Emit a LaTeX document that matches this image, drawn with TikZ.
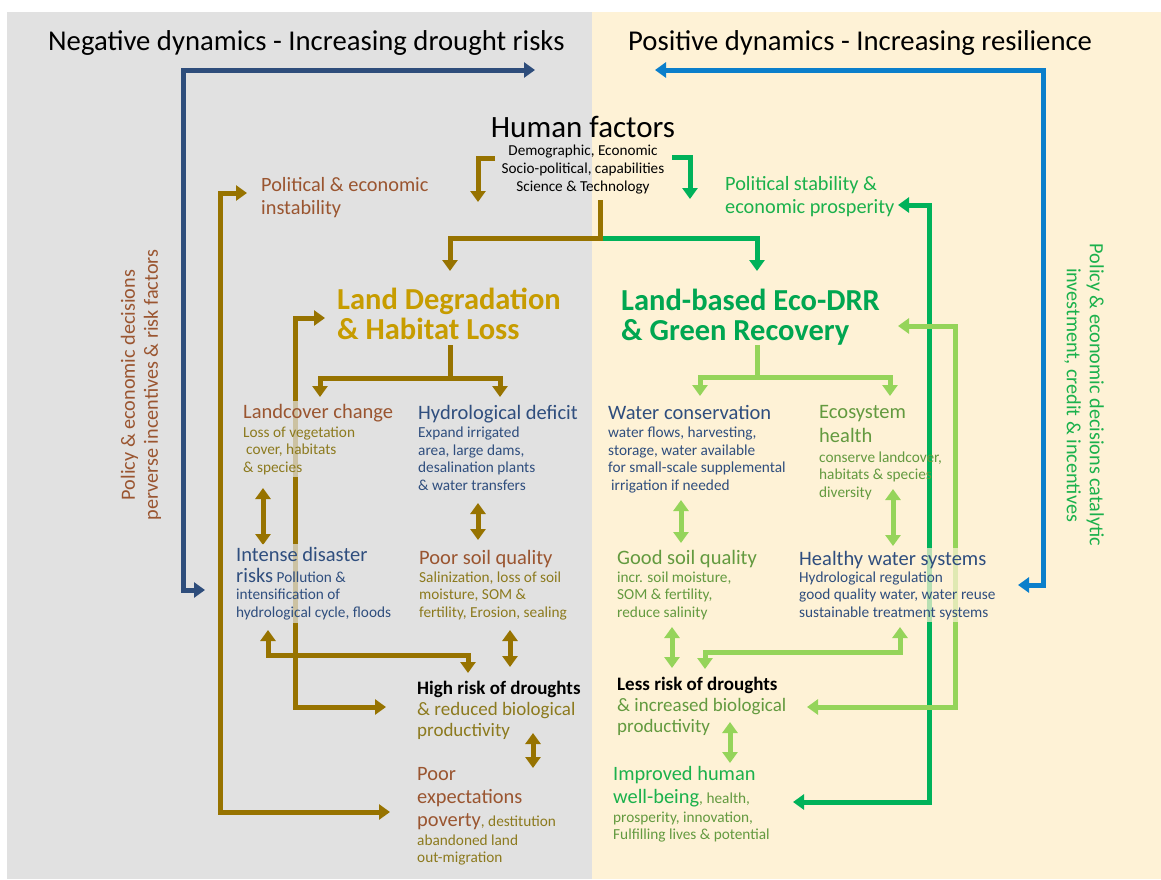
\documentclass[tikz,border=0pt]{standalone}
\usepackage{fontspec}
\setmainfont{Carlito}
\usetikzlibrary{arrows.meta}
\definecolor{bgneg}{HTML}{E1E1E1}
\definecolor{bgpos}{HTML}{FEF2D6}
\definecolor{navyline}{HTML}{2E4D7B}
\definecolor{skyline}{HTML}{0B7FCB}
\definecolor{goldline}{HTML}{977300}
\definecolor{greenline}{HTML}{00B25A}
\definecolor{limeline}{HTML}{95D45A}
\definecolor{brownT}{HTML}{9A5530}
\definecolor{oliveT}{HTML}{8C7A1E}
\definecolor{blueT}{HTML}{2F4E7E}
\definecolor{goldH}{HTML}{C79C00}
\definecolor{greenH}{HTML}{00A651}
\definecolor{greenT}{HTML}{639A3F}
\definecolor{brightG}{HTML}{1BB14C}
\newcommand\fsz[2]{\fontsize{#1}{#2}\selectfont}
\newcommand\labf{\fsz{20.5}{22}}
\newcommand\subf{\fsz{15.3}{17.5}}

\begin{document}
\begin{tikzpicture}[x=1pt,y=-1pt,
  link/.style={line width=5pt, >={Triangle[width=15pt,length=11pt]}},
  navyarr/.style={link, draw=navyline},
  skyarr/.style={link, draw=skyline},
  goldarr/.style={link, draw=goldline},
  greenarr/.style={link, draw=greenline},
  limearr/.style={link, draw=limeline},
  txt/.style={anchor=base west, inner sep=0pt, align=left},
  faded/.style={fill=#1, fill opacity=0.72, text opacity=1, inner ysep=3pt}
]
\useasboundingbox (0,0) rectangle (1161,879);

% two halves of the canvas
\fill[bgneg] (7,12) rectangle (592,879);
\fill[bgpos] (592,12) rectangle (1161,879);

% ---------- connector end points ----------
\coordinate (nbA) at (535,70);  \coordinate (nbB) at (183,70);
\coordinate (nbC) at (183,590); \coordinate (nbD) at (205,590);
\coordinate (skA) at (655,70);  \coordinate (skB) at (1043,70);
\coordinate (skC) at (1043,585);\coordinate (skD) at (1018,585);

\coordinate (hfG0) at (495,158); \coordinate (hfG1) at (478,158); \coordinate (hfG2) at (478,202);
\coordinate (hfV0) at (672,157); \coordinate (hfV1) at (690,157); \coordinate (hfV2) at (690,199);

\coordinate (trunk0) at (600,200); \coordinate (trunk1) at (600,238);
\coordinate (ldIn0) at (450,238);  \coordinate (ldIn1) at (450,271);
\coordinate (ecIn0) at (757,238);  \coordinate (ecIn1) at (757,271);

\coordinate (ldOut0) at (450,345); \coordinate (ldOut1) at (450,378);
\coordinate (ldL0) at (320,378);   \coordinate (ldL1) at (320,397);
\coordinate (ldR0) at (500,378);   \coordinate (ldR1) at (500,397);
\coordinate (ecOut0) at (757,345); \coordinate (ecOut1) at (757,377);
\coordinate (ecL0) at (700,377);   \coordinate (ecL1) at (700,396);
\coordinate (ecR0) at (890,377);   \coordinate (ecR1) at (890,396);

\coordinate (dA0) at (263,488); \coordinate (dA1) at (263,545);
\coordinate (dB0) at (478,503); \coordinate (dB1) at (478,540);
\coordinate (dC0) at (510,630); \coordinate (dC1) at (510,667);
\coordinate (dD0) at (533,733); \coordinate (dD1) at (533,768);
\coordinate (elA0) at (268,630); \coordinate (elA1) at (268,655);
\coordinate (elA2) at (468,655); \coordinate (elA3) at (468,673);
\coordinate (lgA0) at (325,318); \coordinate (lgA1) at (295,318);
\coordinate (lgA2) at (295,707); \coordinate (lgA3) at (386,707);
\coordinate (lgB0) at (247,193); \coordinate (lgB1) at (220,193);
\coordinate (lgB2) at (220,812); \coordinate (lgB3) at (390,812);

\coordinate (dE0) at (681,500); \coordinate (dE1) at (681,543);
\coordinate (dF0) at (893,489); \coordinate (dF1) at (893,546);
\coordinate (dG0) at (672,627); \coordinate (dG1) at (672,668);
\coordinate (dH0) at (730,722); \coordinate (dH1) at (730,763);
\coordinate (elB0) at (900,627); \coordinate (elB1) at (900,652);
\coordinate (elB2) at (705,652); \coordinate (elB3) at (705,669);
\coordinate (lmA0) at (898,326); \coordinate (lmA1) at (955,326);
\coordinate (lmA2) at (955,707); \coordinate (lmA3) at (807,707);
\coordinate (grA0) at (898,205); \coordinate (grA1) at (929,205);
\coordinate (grA2) at (929,802); \coordinate (grA3) at (793,802);

% ---------- connectors ----------
\draw[navyarr,<->] (nbA) -- (nbB) -- (nbC) -- (nbD);
\draw[skyarr,<->]  (skA) -- (skB) -- (skC) -- (skD);

\draw[goldarr,->]  (hfG0) -- (hfG1) -- (hfG2);
\draw[greenarr,->] (hfV0) -- (hfV1) -- (hfV2);
\draw[greenarr,->] (trunk1) -- (ecIn0) -- (ecIn1);
\draw[goldarr,->]  (trunk0) -- (trunk1) -- (ldIn0) -- (ldIn1);

\draw[goldarr] (ldOut0) -- (ldOut1);
\draw[goldarr,<->] (ldL1) -- (ldL0) -- (ldR0) -- (ldR1);
\draw[limearr] (ecOut0) -- (ecOut1);
\draw[limearr,<->] (ecL1) -- (ecL0) -- (ecR0) -- (ecR1);

\draw[goldarr,<->] (dA0) -- (dA1);
\draw[goldarr,<->] (dB0) -- (dB1);
\draw[goldarr,<->] (dC0) -- (dC1);
\draw[goldarr,<->] (dD0) -- (dD1);
\draw[goldarr,<->] (lgB0) -- (lgB1) -- (lgB2) -- (lgB3);
\draw[goldarr,<->] (lgA0) -- (lgA1) -- (lgA2) -- (lgA3);
\draw[goldarr,<->] (elA0) -- (elA1) -- (elA2) -- (elA3);

\draw[limearr,<->] (dE0) -- (dE1);
\draw[limearr,<->] (dF0) -- (dF1);
\draw[limearr,<->] (dG0) -- (dG1);
\draw[limearr,<->] (dH0) -- (dH1);
\draw[limearr,<->] (elB0) -- (elB1) -- (elB2) -- (elB3);
\draw[greenarr,<->] (grA0) -- (grA1) -- (grA2) -- (grA3);
\draw[limearr,<->] (lmA0) -- (lmA1) -- (lmA2) -- (lmA3);

% ---------- titles (multi-line nodes sit on their last baseline) ----------
\node[txt, font=\fsz{28.7}{32}] (negtitle) at (48,50) {Negative dynamics - Increasing drought risks};
\node[txt, font=\fsz{28.7}{32}] (postitle) at (628,50) {Positive dynamics - Increasing resilience};

\node[anchor=base, inner sep=0pt, font=\fsz{31}{34}] (human) at (583,137) {Human factors};
\node[anchor=base, inner sep=0pt, align=center, font=\fsz{15.2}{18}] (humansub) at (583,191)
  {Demographic, Economic\\ Socio-political, capabilities\\ Science \& Technology};

\node[txt, text=brownT, font=\fsz{20.3}{23}] (instab) at (261,214) {Political \& economic\\ instability};
\node[txt, text=brightG, font=\fsz{20.3}{23}] (prosper) at (725,213) {Political stability \&\\ economic prosperity};

\node[txt, text=goldH, font=\bfseries\fsz{30.5}{30}] (ldeg) at (337,339) {Land Degradation\\ \& Habitat Loss};
\node[txt, text=greenH, font=\bfseries\fsz{30.5}{30}] (eco) at (621,340) {Land-based Eco-DRR\\ \& Green Recovery};

% ---------- degradation side ----------
\node[txt, faded=bgneg, text=oliveT, font=\subf] (landcover) at (243,472)
  {{\color{brownT}\labf Landcover change}\\[1pt] Loss of vegetation\\ \hspace{3pt}cover, habitats\\ \& species};
\node[txt, text=blueT, font=\subf] (hydro) at (418,490)
  {{\labf Hydrological deficit}\\[1pt] Expand irrigated\\ area, large dams,\\ desalination plants\\ \& water transfers};
\node[txt, faded=bgneg, text=blueT, font=\subf] (intense) at (236,617)
  {{\labf Intense disaster}\\[3pt] {\labf risks} Pollution \&\\ intensification of\\ hydrological cycle, floods};
\node[txt, text=oliveT, font=\subf] (soilpoor) at (419,617)
  {{\color{brownT}\labf Poor soil quality}\\[0.5pt] Salinization, loss of soil\\ moisture, SOM \&\\ fertility, Erosion, sealing};
\node[txt, text=oliveT, font=\fsz{19}{21}] (highrisk) at (417,736)
  {{\color{black}\bfseries High risk of droughts}\\ \& reduced biological\\ productivity};
\node[txt, text=brownT, font=\fsz{20.4}{23}] (poverty) at (417,862)
  {Poor\\ expectations\\ poverty{\color{oliveT}\subf, destitution}\\[-4pt] {\color{oliveT}\subf abandoned land}\\[-6pt] {\color{oliveT}\subf out-migration}};

% ---------- recovery side ----------
\node[txt, text=blueT, font=\subf] (waterc) at (608,490)
  {{\labf Water conservation}\\[0.5pt] water flows, harvesting,\\ storage, water available\\ for small-scale supplemental\\ \hspace{3pt}irrigation if needed};
\node[txt, text=greenT, font=\subf] (ecohealth) at (819,497)
  {{\labf Ecosystem}\\[5pt] {\labf health}\\[2.5pt] conserve landcover,\\ habitats \& species\\ diversity};
\node[txt, text=greenT, font=\subf] (soilgood) at (617,617)
  {{\labf Good soil quality}\\[0.5pt] incr. soil moisture,\\ SOM \& fertility,\\ reduce salinity};
\node[txt, faded=bgpos, text=blueT, font=\subf] (healthyw) at (799,617)
  {{\labf Healthy water systems}\\[-0.5pt] Hydrological regulation\\ good quality water, water reuse\\ sustainable treatment systems};
\node[txt, text=greenT, font=\fsz{19}{21}] (lessrisk) at (617,732)
  {{\color{black}\bfseries Less risk of droughts}\\ \& increased biological\\ productivity};
\node[txt, text=brightG, font=\fsz{20.4}{23}] (wellbeing) at (613,839)
  {Improved human\\ well-being{\color{greenT}\subf, health,}\\[-4pt] {\color{greenT}\subf prosperity, innovation,}\\[-6pt] {\color{greenT}\subf Fulfilling lives \& potential}};

% ---------- side captions ----------
\node[rotate=90, align=center, inner sep=0pt, text=brownT, font=\fsz{20.2}{23}] (policyneg) at (141,385)
  {Policy \& economic decisions\\ perverse incentives \& risk factors};
\node[rotate=-90, align=center, inner sep=0pt, text=brightG, font=\fsz{20.2}{23}] (policypos) at (1084,395)
  {Policy \& economic decisions catalytic\\ investment, credit \& incentives};
\end{tikzpicture}
\end{document}
